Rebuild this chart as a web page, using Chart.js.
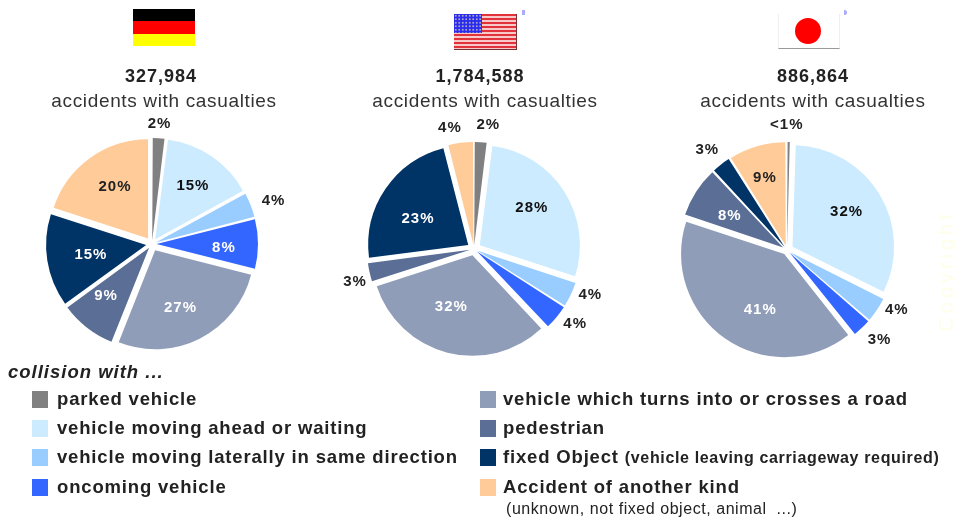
<!DOCTYPE html>
<html><head><meta charset="utf-8">
<script src="https://cdn.jsdelivr.net/npm/chart.js@4"></script>
<style>
html,body{margin:0;padding:0;background:#fff;}
#page{position:relative;width:955px;height:519px;overflow:hidden;font-family:"Liberation Sans",Arial,sans-serif;color:#222;filter:blur(.6px);}
#page>*{position:absolute;}
.num,.sub{width:300px;text-align:center;white-space:nowrap;}
.num{font-weight:bold;font-size:18px;letter-spacing:1px;color:#222;}
.sub{font-size:19px;letter-spacing:.65px;color:#333;}
.sw{width:16px;height:17px;}
.lg{font-weight:bold;font-size:18.5px;letter-spacing:.83px;white-space:nowrap;color:#222;}
.lg small{font-size:16px;letter-spacing:.65px;}
canvas{position:absolute;}
</style></head><body>
<div id="page"></div>
<script>
const categories=["parked vehicle","vehicle moving ahead or waiting","vehicle moving laterally in same direction","oncoming vehicle","vehicle which turns into or crosses a road","pedestrian","fixed Object","Accident of another kind"];
const germanyValues=[2,15,4,8,27,9,15,20];
const usaValues=[2,28,4,4,32,3,23,4];
const japanValues=[0.5,32,4,3,41,8,3,9];
const germanyLabels=["2%","15%","4%","8%","27%","9%","15%","20%"];
const usaLabels=["2%","28%","4%","4%","32%","3%","23%","4%"];
const japanLabels=["<1%","32%","4%","3%","41%","8%","3%","9%"];
const accidentTotals=["327,984","1,784,588","886,864"];
const colors=["#808080","#CCEBFF","#99CCFF","#3366FF","#8F9DB8","#5A6E96","#003366","#FFCC99"];
const inkColors=["#222","#111","#222","#fff","#fff","#fff","#fff","#222"];

const page=document.getElementById('page');
function add(cls,css,html){const d=document.createElement('div');d.className=cls||'';d.style.cssText=css;if(html!=null)d.innerHTML=html;page.appendChild(d);return d;}

// flags
add('','left:133px;top:9px;width:62px;height:37px;background:linear-gradient(#000 0 33.3%,#f00 33.3% 66.6%,#ff0 66.6%);');
add('','left:454px;top:14px;width:63px;height:36px;background:repeating-linear-gradient(#e2333d 0 2px,#f7c9c9 2px 4px);border-right:1px solid #733;border-bottom:1px solid #733;box-sizing:border-box;');
add('','left:454px;top:14px;width:28px;height:19px;background:radial-gradient(circle,#aab 0 .8px,#2a2af0 1px) 0 0/3.5px 3.5px;');
add('','left:778px;top:14px;width:62px;height:35px;background:#fff;border-bottom:1.5px solid #999;border-right:1px solid #eee;border-left:1px solid #eee;box-sizing:border-box;');
add('','left:795px;top:18px;width:26px;height:26px;border-radius:50%;background:#f00;');
add('','left:522px;top:10px;width:3px;height:5px;background:#aaaaff;');
add('','left:844px;top:10px;width:3px;height:5px;background:#aaaaff;border-radius:0 3px 3px 0;');
add('','left:946px;top:271px;transform:translate(-50%,-50%) rotate(-90deg);font-size:20px;letter-spacing:4px;color:#fffeea;white-space:nowrap;','Copyright');

// headers
const headerCenters=[[161,164],[480,485],[813,813]];
accidentTotals.forEach((t,i)=>{
  add('num',`left:${headerCenters[i][0]-150}px;top:66px;`,t);
  add('sub',`left:${headerCenters[i][1]-150}px;top:90px;`,'accidents with casualties');
});

// pies
const labelDist=[[120,71,129,72,70,69,62,68],[125,71,125,126,62,123.5,63.5,124],[125,71,125,129,66,66.6,127.6,75]];
const labelTurn=[[0,1,2,3,3,4,-1,3],[3,-3,-3.6,-3,7,-3,-6,-4],[-1,-2,-5,-2,-11,-2,-1,-1]];
const pieCenters=[[151.5,244],[474,249],[786.5,250]];
const pieRadius=[99,100,101];
const explode=7;
const outsideLimit=100;
// Chart.js shifts an arc by offset/4 and also grows narrow arcs by the same amount times (1-sin(sweep)),
// so the option is scaled per slice to keep every outer edge the same distance out.
function sliceOffset(c){
  const vals=c.dataset.data,sum=vals.reduce((a,b)=>a+b,0);
  const sweep=2*Math.PI*vals[c.dataIndex]/sum;
  return 4*explode/(2-Math.sin(Math.min(Math.PI,sweep)));
}
const labelPlugin={id:'pctLabels',afterDatasetsDraw(chart,args,opts){
  const ctx=chart.ctx;const arcs=chart.getDatasetMeta(0).data;
  ctx.save();ctx.font='bold 15px "Liberation Sans"';ctx.letterSpacing='1px';ctx.textAlign='center';ctx.textBaseline='middle';
  arcs.forEach((a,i)=>{
    const mid=(a.startAngle+a.endAngle)/2+opts.turn[i]*Math.PI/180,d=opts.dist[i];
    ctx.fillStyle=d>outsideLimit?'#222':inkColors[i];
    ctx.fillText(opts.text[i],a.x+Math.cos(mid)*d,a.y+Math.sin(mid)*d);
  });
  ctx.restore();
}};
[[germanyValues,germanyLabels],[usaValues,usaLabels],[japanValues,japanLabels]].forEach(([vals,txt],i)=>{
  const cv=document.createElement('canvas');
  cv.style.left=(pieCenters[i][0]-150)+'px';cv.style.top=(pieCenters[i][1]-140)+'px';
  cv.width=300;cv.height=280;page.appendChild(cv);
  new Chart(cv,{type:'pie',plugins:[labelPlugin],data:{labels:categories,datasets:[{data:vals,backgroundColor:colors,borderWidth:0,offset:sliceOffset}]},
    options:{responsive:false,animation:false,radius:pieRadius[i],layout:{padding:0},
      plugins:{legend:{display:false},tooltip:{enabled:false},pctLabels:{dist:labelDist[i],turn:labelTurn[i],text:txt}}}});
});

// legend
add('lg','left:8px;top:361px;font-style:italic;letter-spacing:1px;','collision with ...');
const legendRowsY=[399,428,457,487];
categories.forEach((c,i)=>{
  const col=i<4?0:1,row=i%4,sx=col?480:32,tx=col?503:57;
  add('sw',`left:${sx}px;top:${legendRowsY[row]-8}px;background:${colors[i]};`);
  let html=c;
  if(i===6)html+=' <small>(vehicle leaving carriageway required)</small>';
  add('lg',`left:${tx}px;top:${legendRowsY[row]-11}px;`,html);
});
add('lg','left:506px;top:500px;font-size:16px;letter-spacing:.55px;font-weight:normal;','(unknown, not fixed object, animal &nbsp;...)');
</script>
</body></html>
